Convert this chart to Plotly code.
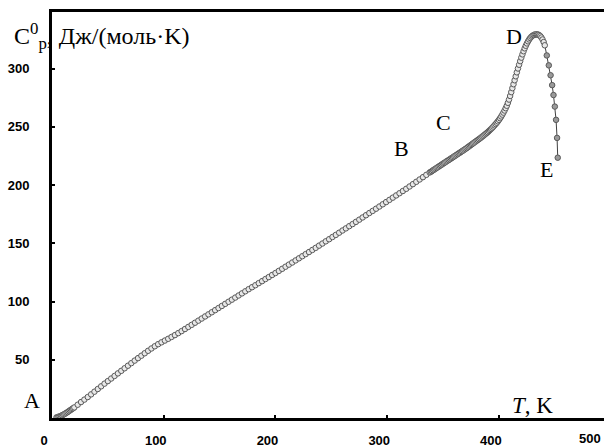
import plotly.graph_objects as go

# Temperature, K
T = [4, 5, 6, 7, 8, 9, 10, 11, 12, 13, 14, 15, 16, 17, 18, 19, 20,
     23, 26, 29, 32, 35, 38, 41, 44, 47, 50, 53, 56, 59, 62, 65, 68, 71, 74, 77, 80,
     83, 86, 89, 92, 95, 98, 101, 104, 107, 110, 113, 116, 119, 122, 125, 128, 131, 134,
     137, 140, 143, 146, 149, 152, 155, 158, 161, 164, 167, 170, 173, 176, 179, 182, 185,
     188, 191, 194, 197, 200, 203, 206, 209, 212, 215, 218, 221, 224, 227, 230, 233, 236,
     239, 242, 245, 248, 251, 254, 257, 260, 263, 266, 269, 272, 275, 278, 281, 284, 287,
     290, 293, 296, 299, 302, 305, 308, 311, 314, 317, 320, 323, 326, 329, 332, 335, 338,
     339, 340, 341, 342, 343, 344, 345, 346, 347, 348, 349, 350, 351, 352, 353, 354, 355,
     356, 357, 358, 359, 360, 361, 362, 363, 364, 365, 366, 367, 368, 369, 370, 371, 372,
     373, 374, 375, 376, 377, 378, 379, 380, 381, 382, 383, 384, 385, 386, 387, 388, 389,
     390, 391, 392, 393, 394, 395, 396, 397, 398, 399, 400, 401, 402, 403, 404, 405, 406,
     407, 408, 409, 410, 411, 412, 413, 414, 415, 416, 417, 418, 419, 420, 421, 422, 423,
     424, 425, 426, 427, 428, 429, 430, 431, 432, 433, 434, 435, 436, 437, 438, 439, 440,
     441, 442.8, 444.6, 446.2, 447.6, 448.8, 450.0, 451.1, 452.0, 452.6]

# Heat capacity Cp, J/(mol K)
Cp = [0.5, 0.8, 1.1, 1.4, 1.8, 2.3, 2.8, 3.3, 3.9, 4.5, 5.1, 5.8, 6.5, 7.1, 7.8, 8.4, 9.1,
      11.4, 13.7, 15.8, 18.0, 20.3, 22.6, 24.9, 27.2, 29.5, 31.7, 33.9, 36.1, 38.3, 40.5,
      42.7, 44.9, 47.1, 49.3, 51.4, 53.5, 55.6, 57.7, 59.7, 61.6, 63.4, 65.0, 66.5, 68.0,
      69.6, 71.2, 72.9, 74.6, 76.4, 78.2, 80.0, 81.8, 83.6, 85.4, 87.2, 89.0, 90.8, 92.6,
      94.4, 96.2, 98.0, 99.8, 101.6, 103.4, 105.2, 107.0, 108.8, 110.6, 112.3, 114.0, 115.8,
      117.5, 119.3, 121.0, 122.8, 124.5, 126.3, 128.1, 129.9, 131.7, 133.5, 135.3, 137.1,
      138.9, 140.7, 142.5, 144.3, 146.1, 148.0, 149.8, 151.7, 153.5, 155.4, 157.2, 159.1,
      161.0, 162.8, 164.7, 166.5, 168.4, 170.3, 172.2, 174.1, 176.0, 177.8, 179.7, 181.6,
      183.5, 185.4, 187.3, 189.2, 191.1, 193.0, 194.9, 196.8, 198.8, 200.8, 202.8, 204.8,
      206.8, 208.8, 210.8,
      211.4, 212.0, 212.7, 213.3, 213.9, 214.6, 215.2, 215.8, 216.5, 217.1, 217.7, 218.4,
      219.0, 219.6, 220.3, 220.9, 221.5, 222.1, 222.8, 223.4, 224.0, 224.7, 225.3, 225.9,
      226.6, 227.2, 227.8, 228.5, 229.1, 229.7, 230.4, 231.0, 231.7, 232.4, 233.1, 233.8,
      234.5, 235.2, 235.9, 236.6, 237.3, 238.0, 238.7, 239.4, 240.1, 240.8, 241.6, 242.3,
      243.1, 243.9, 244.7, 245.5, 246.4, 247.3, 248.2, 249.2, 250.2, 251.3, 252.4, 253.5,
      254.7, 256.0, 257.4, 258.9, 260.5, 262.2, 264.0, 266.0, 268.1, 270.6, 273.4, 276.5,
      279.8, 283.2, 286.6, 290.0, 293.4, 296.8, 300.1, 303.3, 306.4, 309.4, 312.2, 314.9,
      317.4, 319.6, 321.6, 323.4, 325.0, 326.3, 327.4, 328.2, 328.8, 329.2, 329.4, 329.4,
      329.2, 328.7, 327.9, 326.7, 325.0, 322.8, 320.0,
      311.3, 302.8, 294.3, 285.8, 277.3, 267.4, 256.0, 240.5, 223.5]

x_ticks = [0, 100, 200, 300, 400]
x_tick_labels = ["0", "100", "200", "300", "400"]
x_extra_label = "500"
y_ticks = [50, 100, 150, 200, 250, 300]
y_tick_labels = ["50", "100", "150", "200", "250", "300"]

point_labels = ["A", "B", "C", "D", "E"]
point_label_pos = [(-0.036, 0.044), (0.634, 0.663), (0.710, 0.727), (0.837, 0.939), (0.895, 0.612)]

y_title = "C<sup>0</sup><sub>p</sub>, Дж/(моль·K)"
x_title = "<i>T</i>, K"

# sparse points after the peak are drawn with a darker fill
n_sparse = 9
fills = ["#e8e8e8"] * (len(T) - n_sparse) + ["#9a9a9a"] * n_sparse

fig = go.Figure()
fig.add_trace(go.Scatter(
    x=T, y=Cp, mode="lines+markers",
    line=dict(color="#404040", width=1),
    marker=dict(symbol="circle", size=5.5, color=fills,
                line=dict(color="#595959", width=1)),
    cliponaxis=False, showlegend=False, hoverinfo="skip"))

serif = "Liberation Serif, Times New Roman, serif"
tick_font = dict(family="Liberation Sans, Arial, sans-serif", size=13, color="black", weight="bold")

fig.update_layout(
    width=604, height=448,
    margin=dict(l=52, r=0, t=12, b=26),
    paper_bgcolor="white", plot_bgcolor="white",
    xaxis=dict(range=[0, 494], showgrid=False, zeroline=False,
               showline=True, linecolor="black", linewidth=3, mirror=True,
               ticks="inside", ticklen=3, tickwidth=1.5, tickcolor="black",
               tickvals=x_ticks, ticktext=x_tick_labels, tickfont=tick_font,
               ticklabelshift=-8, ticklabelstandoff=8),
    yaxis=dict(range=[0, 348.6], showgrid=False, zeroline=False,
               showline=True, linecolor="black", linewidth=3, mirror=False,
               ticks="inside", ticklen=3, tickwidth=1.5, tickcolor="black",
               tickvals=y_ticks, ticktext=y_tick_labels, tickfont=tick_font,
               ticklabelstandoff=17),
)

for lab, (px, py) in zip(point_labels, point_label_pos):
    fig.add_annotation(text=lab, x=px, y=py, xref="paper", yref="paper",
                       showarrow=False, xanchor="center", yanchor="middle",
                       font=dict(family=serif, size=22, color="black"))

fig.add_annotation(text=y_title, x=-0.072, y=0.94, xref="paper", yref="paper",
                   showarrow=False, xanchor="left", yanchor="middle",
                   font=dict(family=serif, size=24, color="black"))
fig.add_annotation(text=x_title, x=0.830, y=0.03, xref="paper", yref="paper",
                   showarrow=False, xanchor="left", yanchor="middle",
                   font=dict(family=serif, size=23, color="black"))
fig.add_annotation(text=x_extra_label, x=0.975, y=-0.05, xref="paper", yref="paper",
                   showarrow=False, xanchor="center", yanchor="middle",
                   font=tick_font)

fig.write_html("out.html", config={"displayModeBar": False},
               post_script="document.body.style.margin='0px';")
